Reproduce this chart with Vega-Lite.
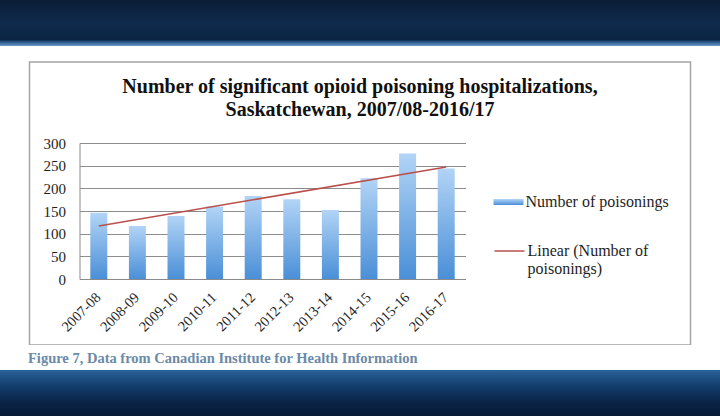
{
  "$schema": "https://vega.github.io/schema/vega-lite/v6.json",
  "background": "white",
  "padding": 0,
  "spacing": 0,
  "bounds": "flush",
  "center": true,
  "config": {
    "font": "Liberation Serif",
    "view": {"stroke": null}
  },
  "datasets": {
    "poisonings": [
      {"year": "2007-08", "count": 146},
      {"year": "2008-09", "count": 117},
      {"year": "2009-10", "count": 139},
      {"year": "2010-11", "count": 160},
      {"year": "2011-12", "count": 183},
      {"year": "2012-13", "count": 176},
      {"year": "2013-14", "count": 152},
      {"year": "2014-15", "count": 222},
      {"year": "2015-16", "count": 277},
      {"year": "2016-17", "count": 244}
    ],
    "trend": [
      {"year": "2007-08", "trend": 117},
      {"year": "2016-17", "trend": 247}
    ]
  },
  "vconcat": [
    {
      "width": 720,
      "height": 46,
      "data": {"values": [{}]},
      "mark": {"type": "text"},
      "encoding": {},
      "view": {
        "stroke": null,
        "fill": {
          "gradient": "linear", "x1": 0, "y1": 0, "x2": 0, "y2": 1,
          "stops": [
            {"offset": 0, "color": "#0a1d36"},
            {"offset": 0.5, "color": "#0f2b4c"},
            {"offset": 0.86, "color": "#0b2443"},
            {"offset": 0.93, "color": "#2f6698"},
            {"offset": 1, "color": "#6f98c2"}
          ]
        }
      }
    },
    {
      "width": 720,
      "height": 16,
      "data": {"values": [{}]},
      "mark": {"type": "text"},
      "encoding": {},
      "view": {"stroke": null, "fill": "white"}
    },
    {
      "width": 661,
      "height": 283,
      "view": {"stroke": "#a3a3a3", "strokeWidth": 1.5, "fill": "white"},
      "title": {
        "text": ["Number of significant opioid poisoning hospitalizations,", "Saskatchewan, 2007/08-2016/17"],
        "orient": "top",
        "anchor": "middle",
        "baseline": "middle",
        "offset": -38,
        "dy": 30,
        "lineHeight": 23,
        "font": "Liberation Serif",
        "fontSize": 20,
        "fontWeight": "bold",
        "color": "#111111"
      },
      "layer": [
        {
          "data": {"name": "poisonings"},
          "mark": {
            "type": "bar",
            "strokeWidth": 0,
            "color": {
              "gradient": "linear", "x1": 0, "y1": 0, "x2": 0, "y2": 1,
              "stops": [
                {"offset": 0, "color": "#b2d4f6"},
                {"offset": 1, "color": "#4a8fd7"}
              ]
            }
          },
          "encoding": {
            "x": {
              "field": "year",
              "type": "nominal",
              "scale": {
                "domain": ["2007-08", "2008-09", "2009-10", "2010-11", "2011-12", "2012-13", "2013-14", "2014-15", "2015-16", "2016-17"],
                "range": [50, 436],
                "paddingInner": 0.56,
                "paddingOuter": 0.28
              },
              "axis": {
                "orient": "bottom",
                "offset": -66,
                "title": null,
                "ticks": false,
                "grid": false,
                "domain": true,
                "domainColor": "#8a8a8a",
                "domainWidth": 1,
                "labelAngle": -45,
                "labelAlign": "right",
                "labelBaseline": "middle",
                "labelPadding": 16,
                "labelOverlap": false,
                "labelFont": "Liberation Serif",
                "labelFontSize": 14.5,
                "labelColor": "#1e1e1e"
              }
            },
            "y": {
              "field": "count",
              "type": "quantitative",
              "scale": {"domain": [0, 300], "range": [217, 81], "nice": false},
              "axis": {
                "values": [0, 50, 100, 150, 200, 250, 300],
                "offset": -50,
                "title": null,
                "ticks": false,
                "domain": true,
                "domainColor": "#8a8a8a",
                "grid": true,
                "gridColor": "#8c8c8c",
                "gridWidth": 1,
                "labelPadding": 14,
                "labelFont": "Liberation Serif",
                "labelFontSize": 15,
                "labelColor": "#1e1e1e"
              }
            },
            "stroke": {
              "datum": "Number of poisonings",
              "type": "nominal",
              "scale": {"range": ["#78aae2"]},
              "legend": {
                "orient": "none",
                "legendX": 464,
                "legendY": 125,
                "title": null,
                "padding": 0,
                "symbolType": "M-1,-0.2H1V0.2H-1Z",
                "symbolSize": 900,
                "symbolFillColor": "#78aae2",
                "symbolStrokeWidth": 0,
                "labelOffset": 2,
                "labelFont": "Liberation Serif",
                "labelFontSize": 16,
                "labelColor": "#1e1e1e",
                "labelLimit": 220
              }
            }
          }
        },
        {
          "data": {"name": "trend"},
          "mark": {"type": "line", "strokeWidth": 1.5},
          "encoding": {
            "x": {"field": "year", "type": "nominal"},
            "y": {"field": "trend", "type": "quantitative"},
            "stroke": {
              "datum": "Linear (Number of poisonings)",
              "type": "nominal",
              "scale": {"range": ["#b9504b"]},
              "legend": {
                "orient": "none",
                "legendX": 464,
                "legendY": 173,
                "title": null,
                "padding": 0,
                "symbolType": "M-1,0H1",
                "symbolSize": 900,
                "symbolStrokeWidth": 1.5,
                "labelOffset": 2,
                "labelExpr": "['Linear (Number of', 'poisonings)']",
                "labelFont": "Liberation Serif",
                "labelFontSize": 16,
                "labelLineHeight": 19,
                "labelColor": "#1e1e1e",
                "labelLimit": 220
              }
            }
          }
        }
      ],
      "resolve": {"scale": {"stroke": "independent"}}
    },
    {
      "width": 720,
      "height": 25,
      "data": {"values": [{}]},
      "mark": {"type": "text"},
      "encoding": {},
      "view": {"stroke": null, "fill": "white"},
      "title": {
        "text": "Figure 7, Data from Canadian Institute for Health Information",
        "orient": "top",
        "anchor": "start",
        "baseline": "middle",
        "offset": -14,
        "dy": 14,
        "dx": 28,
        "font": "Liberation Serif",
        "fontSize": 14.5,
        "fontWeight": "bold",
        "color": "#6a8aa8"
      }
    },
    {
      "width": 720,
      "height": 46,
      "data": {"values": [{}]},
      "mark": {"type": "text"},
      "encoding": {},
      "view": {
        "stroke": null,
        "fill": {
          "gradient": "linear", "x1": 0, "y1": 0, "x2": 0, "y2": 1,
          "stops": [
            {"offset": 0, "color": "#2a6298"},
            {"offset": 0.35, "color": "#123d6c"},
            {"offset": 0.7, "color": "#0a2447"},
            {"offset": 1, "color": "#071a35"}
          ]
        }
      }
    }
  ]
}
